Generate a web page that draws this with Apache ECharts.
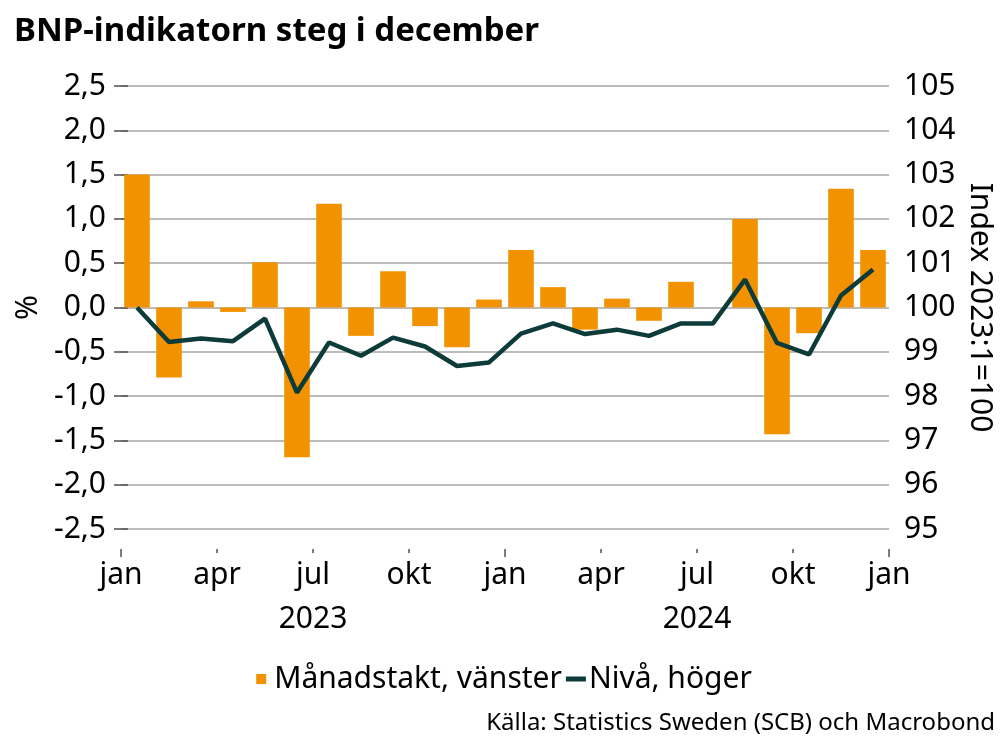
<!DOCTYPE html>
<html><head><meta charset="utf-8">
<script src="https://cdn.jsdelivr.net/npm/echarts@6/dist/echarts.min.js"></script>
<style>html,body{margin:0;padding:0;background:#fff}#c{width:1008px;height:756px}</style>
</head><body><div id="c"></div>
<script>
const months = ['2023-01','2023-02','2023-03','2023-04','2023-05','2023-06','2023-07','2023-08','2023-09','2023-10','2023-11','2023-12',
                '2024-01','2024-02','2024-03','2024-04','2024-05','2024-06','2024-07','2024-08','2024-09','2024-10','2024-11','2024-12'];
const monthlyChange = [1.50,-0.79,0.07,-0.05,0.51,-1.69,1.17,-0.32,0.41,-0.21,-0.45,0.09,
                       0.65,0.23,-0.25,0.10,-0.15,0.29,0.00,1.00,-1.43,-0.29,1.34,0.65];
const level = [100.00,99.22,99.30,99.24,99.75,98.08,99.21,98.91,99.32,99.12,98.68,98.76,
               99.41,99.64,99.40,99.50,99.36,99.64,99.64,100.63,99.20,98.94,100.27,100.86];
const quarterLabels = ['jan','apr','jul','okt'];
const yearLabels = ['2023','2024'];
const seriesNames = ['Månadstakt, vänster','Nivå, höger'];
const titleText = 'BNP-indikatorn steg i december';
const sourceText = 'Källa: Statistics Sweden (SCB) och Macrobond';

const FONT = 'Noto Sans';
const FS = 30;
const ORANGE = '#F39200';
const DARK = '#0C3B3A';
const GRID = '#A6A6A6';
const TICK = '#505050';

const chart = echarts.init(document.getElementById('c'), null, {renderer:'canvas'});
const baseX = {
  type:'value', min:0, max:24, position:'bottom', offset:20,
  axisLine:{show:false}, splitLine:{show:false}
};
chart.setOption({
  animation:false,
  textStyle:{fontFamily:FONT},
  title:{text:titleText, left:9, top:10, textStyle:{fontFamily:FONT, fontSize:33, fontWeight:'bold', color:'#000'}},
  grid:{left:121, right:119, top:86, bottom:227, containLabel:false},
  legend:{
    bottom:57, left:'center', itemGap:4, itemWidth:20, itemHeight:10,
    textStyle:{fontFamily:FONT, fontSize:FS, color:'#000', padding:[0,0,0,-2]},
    data:[{name:seriesNames[0], icon:'path://M0,0h9v9h-9z'},
          {name:seriesNames[1], icon:'path://M0,0h20v5h-20z'}]
  },
  graphic:[{type:'text', right:13, top:711, style:{text:sourceText, font:'24px "Noto Sans"', fill:'#000'}}],
  xAxis:[
    {type:'category', data:months, boundaryGap:true, axisLine:{show:false}, axisTick:{show:false}, axisLabel:{show:false}},
    Object.assign({}, baseX, {interval:3,
      axisTick:{show:true, length:4, lineStyle:{color:TICK, width:1.5}},
      axisLabel:{show:true, margin:11, fontSize:FS, color:'#000', fontFamily:FONT,
        formatter:v=>quarterLabels[Math.round(v/3)%4]}}),
    Object.assign({}, baseX, {interval:12,
      axisTick:{show:true, length:8, lineStyle:{color:TICK, width:1.5}},
      axisLabel:{show:false}}),
    Object.assign({}, baseX, {interval:6,
      axisTick:{show:false},
      axisLabel:{show:true, margin:55, fontSize:FS, color:'#000', fontFamily:FONT,
        formatter:v=>(Math.round(v)%12===6 ? yearLabels[Math.floor(v/12)] : '')}})
  ],
  yAxis:[
    {type:'value', min:-2.5, max:2.5, interval:0.5, position:'left',
     name:'%', nameLocation:'middle', nameGap:78, nameRotate:90,
     nameTextStyle:{fontFamily:FONT, fontSize:FS, color:'#000'},
     axisLine:{show:false},
     axisTick:{show:true, length:7, lineStyle:{color:TICK, width:1.5}},
     splitLine:{show:true, lineStyle:{color:GRID, width:1.5}},
     axisLabel:{margin:15, fontSize:FS, color:'#000', fontFamily:FONT,
       formatter:v=>v.toFixed(1).replace('.',',')}},
    {type:'value', min:95, max:105, interval:1, position:'right',
     name:'Index 2023:1=100', nameLocation:'middle', nameGap:76, nameRotate:-90, nameMoveOverlap:false,
     nameTextStyle:{fontFamily:FONT, fontSize:FS, color:'#000'},
     axisLine:{show:false},
     axisTick:{show:true, length:7, lineStyle:{color:TICK, width:1.5}},
     splitLine:{show:false},
     axisLabel:{margin:15, fontSize:FS, color:'#000', fontFamily:FONT}}
  ],
  series:[
    {name:seriesNames[0], type:'bar', xAxisIndex:0, yAxisIndex:0, data:monthlyChange,
     barWidth:'80%', itemStyle:{color:ORANGE}},
    {name:seriesNames[1], type:'line', xAxisIndex:0, yAxisIndex:1, data:level,
     symbol:'none', lineStyle:{color:DARK, width:4.5}, itemStyle:{color:DARK}, z:3}
  ]
});
</script></body></html>
